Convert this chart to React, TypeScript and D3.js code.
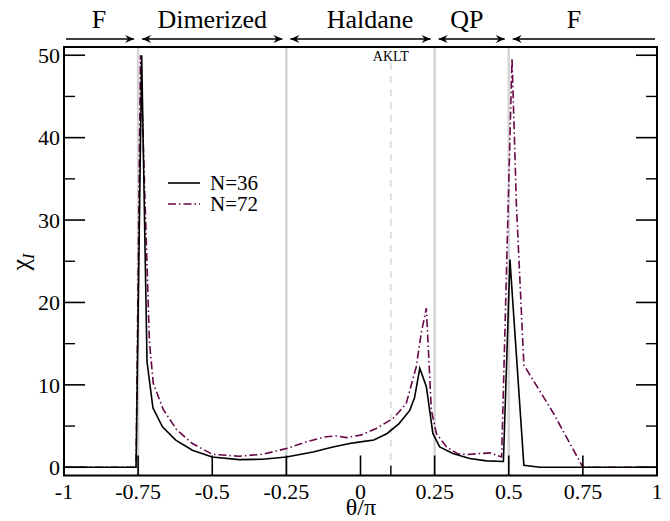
import React from "react";
import * as d3 from "d3";

// N=36 (solid black)
const n36X = [-1, -0.757, -0.738, -0.72, -0.7, -0.668, -0.623, -0.567, -0.5, -0.41, -0.33, -0.25, -0.16, -0.093, -0.037, 0, 0.045, 0.09, 0.13, 0.166, 0.182, 0.2, 0.222, 0.244, 0.267, 0.312, 0.368, 0.425, 0.482, 0.504, 0.551, 0.605, 1];
const n36Y = [0, 0, 50, 12.8, 7.2, 4.9, 3.3, 2.07, 1.25, 0.93, 0.97, 1.25, 1.86, 2.47, 2.88, 3.08, 3.3, 4.1, 5.3, 6.9, 8.4, 12.0, 9.8, 4.1, 2.47, 1.67, 1.06, 0.77, 0.7, 25.2, 0.25, 0, 0];

// N=72 (dash-dot maroon)
const n72X = [-1, -0.757, -0.742, -0.712, -0.699, -0.665, -0.62, -0.567, -0.5, -0.41, -0.33, -0.25, -0.183, -0.116, -0.08, -0.048, 0, 0.053, 0.109, 0.154, 0.188, 0.205, 0.222, 0.239, 0.256, 0.29, 0.33, 0.36, 0.437, 0.476, 0.511, 0.526, 0.551, 0.65, 0.75, 1];
const n72Y = [0, 0, 50, 15.3, 10.2, 7.0, 4.55, 2.88, 1.58, 1.34, 1.58, 2.27, 3.08, 3.7, 3.8, 3.6, 3.9, 4.7, 5.9, 7.7, 12.2, 16.3, 19.3, 6.9, 4.1, 2.47, 1.6, 1.55, 1.75, 1.25, 49.6, 31.7, 12.4, 6.6, 0, 0];

const xTickVals = [-1, -0.75, -0.5, -0.25, 0, 0.25, 0.5, 0.75, 1];
const xTickLabels = ["-1", "-0.75", "-0.5", "-0.25", "0", "0.25", "0.5", "0.75", "1"];
const yMajor = [0, 10, 20, 30, 40, 50];
const yMinor = [5, 15, 25, 35, 45];

const boundaries = [-0.75, -0.25, 0.25, 0.5];
const akltX = 0.1024;

const phaseNames = ["F", "Dimerized", "Haldane", "QP", "F"];
const phaseStart = [-1, -0.75, -0.25, 0.25, 0.5];
const phaseEnd = [-0.75, -0.25, 0.25, 0.5, 1];
const phaseLabelAt = [-0.882, -0.5, 0.032, 0.359, 0.72];
const phaseHeadLeft = [false, true, true, true, true];
const phaseHeadRight = [true, true, true, true, false];

const seriesNames = ["N=36", "N=72"];

const FONT = "'Liberation Serif', 'DejaVu Serif', serif";
const MAROON = "#670748";

export default function App() {
  const W = 670, H = 521;
  const left = 64, right = 657, top = 47, bottom = 475.5;
  const x = d3.scaleLinear().domain([-1, 1]).range([left, right]);
  const y = d3.scaleLinear().domain([-1, 51]).range([bottom, top]);

  const line = d3.line<[number, number]>().x(d => x(d[0])).y(d => y(d[1]));
  const p36 = line(n36X.map((v, i) => [v, n36Y[i]]))!;
  const p72 = line(n72X.map((v, i) => [v, n72Y[i]]))!;

  const arrowY = 39;
  const ts = { fontFamily: FONT };

  return (
    <svg width={W} height={H} style={{ position: "absolute", left: 0, top: 0, background: "#fff", fontFamily: FONT }}>
      <defs>
        <marker id="ah" viewBox="-10 -5 10 10" refX={0} refY={0} markerWidth={10} markerHeight={10} markerUnits="userSpaceOnUse" orient="auto-start-reverse">
          <path d="M0,0 L-9,-4 L-6,0 L-9,4 Z" fill="#000" />
        </marker>
      </defs>
      <rect x={0} y={0} width={W} height={H} fill="#fff" />

      {/* phase boundaries */}
      {boundaries.map((b, i) => (
        <line key={"b" + i} x1={x(b)} x2={x(b)} y1={top} y2={bottom} stroke="#d6d6d6" strokeWidth={2.6} />
      ))}
      <line x1={x(akltX)} x2={x(akltX)} y1={63} y2={bottom} stroke="#d6d6d6" strokeWidth={1.4} strokeDasharray="7,6" />
      <text x={x(akltX)} y={61} fontSize={14} textAnchor="middle" style={ts}>AKLT</text>

      {/* data */}
      <path d={p72} fill="none" stroke={MAROON} strokeWidth={1.6} strokeDasharray="8,3,1.5,3" />
      <path d={p36} fill="none" stroke="#000" strokeWidth={1.6} />

      {/* frame */}
      <rect x={left} y={top} width={right - left} height={bottom - top} fill="none" stroke="#000" strokeWidth={2} />

      {/* y ticks */}
      {yMajor.map(v => (
        <g key={"ym" + v}>
          <line x1={left} x2={left + 21} y1={y(v)} y2={y(v)} stroke="#000" strokeWidth={1.6} />
          <line x1={right} x2={right - 21} y1={y(v)} y2={y(v)} stroke="#000" strokeWidth={1.6} />
          <text x={left - 4} y={y(v)} dy="0.35em" fontSize={22} textAnchor="end" style={ts}>{v}</text>
        </g>
      ))}
      {yMinor.map(v => (
        <g key={"yn" + v}>
          <line x1={left} x2={left + 11} y1={y(v)} y2={y(v)} stroke="#000" strokeWidth={1.4} />
          <line x1={right} x2={right - 11} y1={y(v)} y2={y(v)} stroke="#000" strokeWidth={1.4} />
        </g>
      ))}

      {/* x ticks */}
      {xTickVals.map((v, i) => (
        <g key={"xt" + i}>
          {i > 0 && i < xTickVals.length - 1 && (
            <line x1={x(v)} x2={x(v)} y1={bottom} y2={bottom - 20} stroke="#000" strokeWidth={1.6} />
          )}
          <text x={x(v)} y={499} fontSize={22} textAnchor="middle" style={ts}>{xTickLabels[i]}</text>
        </g>
      ))}
      <line x1={x(akltX)} x2={x(akltX)} y1={bottom} y2={bottom - 10} stroke="#000" strokeWidth={1.4} />

      {/* axis labels */}
      <text x={361} y={515} fontSize={24} textAnchor="middle" style={ts}>θ/π</text>
      <text transform="translate(29,262) rotate(-90)" fontSize={26} textAnchor="middle" style={ts}>
        χ<tspan fontSize={16} dy={5} fontStyle="italic">I</tspan>
      </text>

      {/* phase arrows */}
      {phaseNames.map((nm, i) => {
        const x1 = x(phaseStart[i]) + (phaseHeadLeft[i] ? 4 : 2);
        const x2 = x(phaseEnd[i]) - (phaseHeadRight[i] ? 4 : 2);
        return (
          <g key={"ph" + i}>
            <line x1={x1} x2={x2} y1={arrowY} y2={arrowY} stroke="#000" strokeWidth={1.6}
              markerStart={phaseHeadLeft[i] ? "url(#ah)" : undefined}
              markerEnd={phaseHeadRight[i] ? "url(#ah)" : undefined} />
            <text x={x(phaseLabelAt[i])} y={28} fontSize={26} textAnchor="middle" style={ts}>{nm}</text>
          </g>
        );
      })}

      {/* legend */}
      <g>
        <line x1={168} x2={200} y1={183} y2={183} stroke="#000" strokeWidth={1.6} />
        <text x={210} y={190} fontSize={21} style={ts}>{seriesNames[0]}</text>
        <line x1={168} x2={200} y1={204} y2={204} stroke={MAROON} strokeWidth={1.6} strokeDasharray="8,3,1.5,3" />
        <text x={210} y={211} fontSize={21} style={ts}>{seriesNames[1]}</text>
      </g>
    </svg>
  );
}
